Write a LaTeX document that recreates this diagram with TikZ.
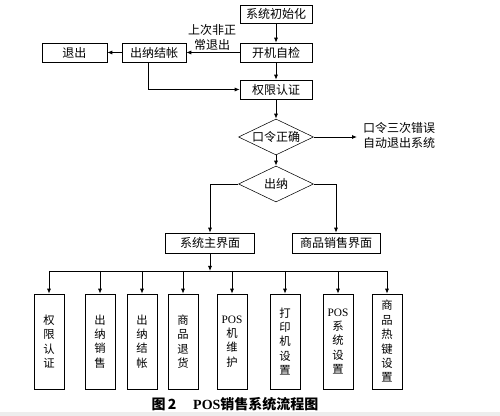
\documentclass[tikz,border=0pt]{standalone}
\usepackage{fontspec}
\setmainfont{Noto Sans CJK SC}
\newfontfamily\lat{Liberation Serif}
\usetikzlibrary{shapes.geometric,arrows.meta}
\tikzset{
  box/.style={draw, rectangle, inner sep=0pt, font=\fontsize{9}{10}\selectfont},
  vbox/.style={draw, rectangle, inner sep=0pt, minimum width=22.5pt, minimum height=71.25pt,
    align=center, font=\fontsize{8.5}{10.8}\selectfont},
  dia/.style={draw, diamond, inner sep=0pt, minimum width=56.25pt, minimum height=27pt, aspect=2,
    font=\fontsize{9}{10}\selectfont},
  conn/.style={line width=0.6pt},
  arr/.style={line width=0.6pt, -{Latex[length=3.75pt,width=3pt]}},
  lbl/.style={align=center, font=\fontsize{9}{11}\selectfont, inner sep=0pt}
}
\begin{document}
\begin{tikzpicture}[x=0.75pt, y=-0.75pt]
\useasboundingbox (0,0) rectangle (500,416);
\fill[black!7] (0,412) rectangle (500,416);
% top section
\node[box, minimum width=72*0.75pt, minimum height=18*0.75pt] (init) at (276,14) {系统初始化};
\node[box, minimum width=72*0.75pt, minimum height=19*0.75pt] (check) at (276,52.5) {开机自检};
\node[box, minimum width=64*0.75pt, minimum height=19*0.75pt] (settle) at (154,52.5) {出纳结帐};
\node[box, minimum width=65*0.75pt, minimum height=19*0.75pt] (exit) at (74.5,52.5) {退出};
\node[box, minimum width=72*0.75pt, minimum height=19*0.75pt] (auth) at (276,89.5) {权限认证};
\node[dia] (pwd) at (276,137) {口令正确};
\node[dia] (cash) at (276,184) {出纳};
\node[lbl] (abn) at (212,37.5) {上次非正\\常退出};
\node[lbl, align=left] (fail) at (399,135.5) {口令三次错误\\自动退出系统};
\coordinate (failend) at (357,137);
\node[box, minimum width=89*0.75pt, minimum height=20*0.75pt] (main) at (210,243) {系统主界面};
\node[box, minimum width=88*0.75pt, minimum height=20*0.75pt] (sale) at (336,243) {商品销售界面};
\coordinate (busmid) at (210,271);
\coordinate (busl) at (49,271);
\coordinate (busr) at (387,271);

\draw[arr] (init) -- (check);
\draw[arr] (check) -- (settle);
\draw[arr] (settle) -- (exit);
\draw[arr] ([xshift=-4.5pt]settle.south) |- (auth.west);
\draw[arr] (check) -- (auth);
\draw[arr] (auth) -- (pwd);
\draw[arr] (pwd) -- (failend);
\draw[arr] (pwd) -- (cash);
\draw[arr] (cash.west) -| (main.north);
\draw[arr] (cash.east) -| (sale.north);
\draw[arr] (main) -- (busmid);
\draw[conn] (busl) -- (busr);

% bottom boxes
\foreach \x/\t/\n in {49/{权\\限\\认\\证}/b1, 100/{出\\纳\\销\\售}/b2, 142/{出\\纳\\结\\帐}/b3,
  183/{商\\品\\退\\货}/b4, 232/{{\lat POS}\\机\\维\\护}/b5, 285/{打\\印\\机\\设\\置}/b6,
  338/{{\lat POS}\\系\\统\\设\\置}/b7, 387/{商\\品\\热\\键\\设\\置}/b8} {
  \node[vbox] (\n) at (\x,341.5) {\t};
  \coordinate (t\n) at (\x,271);
  \draw[arr] (t\n) -- (\n.north);
}

\node[font=\fontsize{10.5}{12}\selectfont\bfseries, inner sep=0pt] (cap) at (235,404)
  {图\,2\hspace{1.2em}{\lat\bfseries POS}销售系统流程图};
\end{tikzpicture}
\end{document}
